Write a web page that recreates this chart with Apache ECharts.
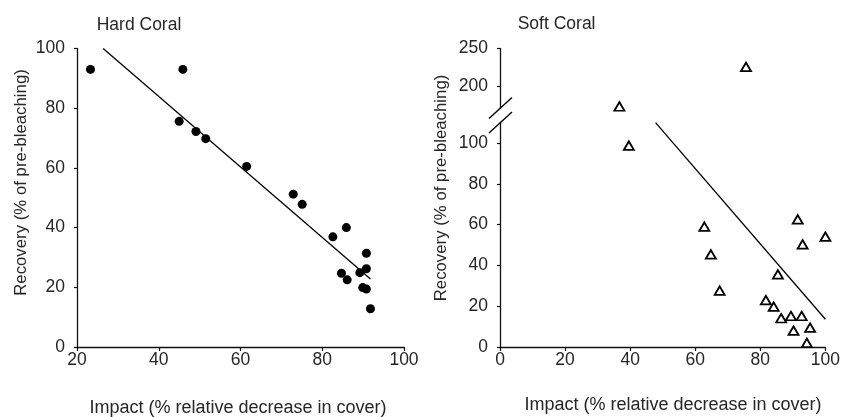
<!DOCTYPE html>
<html>
<head>
<meta charset="utf-8">
<script src="https://cdn.jsdelivr.net/npm/echarts@6/dist/echarts.min.js"></script>
<style>html,body{margin:0;padding:0;background:#fff}#c{width:843px;height:417px}</style>
</head>
<body>
<div id="c"></div>
<script>
// ---- Data ----
const hardImpact   = [23.3, 45.9, 45.0, 49.1, 51.5, 61.5, 72.9, 75.1, 82.6, 85.9, 84.7, 86.1, 89.2, 90.8, 90.8, 89.9, 90.8, 91.8];
const hardRecovery = [93.0, 93.0, 75.6, 72.2, 69.8, 60.5, 51.2, 47.8, 36.9, 40.0, 24.7, 22.5, 24.9, 31.4, 26.2, 19.9, 19.4, 12.8];
const hardFitX = [26.4, 91.8];
const hardFitY = [100.0, 22.8];

const softImpact   = [39.6, 62.8, 64.8, 67.5, 85.4, 91.5, 93.0, 100, 81.7, 84.1, 86.4, 89.4, 92.7, 90.2, 95.3, 94.3];
const softRecovery = [98.7, 59.0, 45.4, 27.6, 35.6, 62.6, 50.3, 54.1, 23.0, 19.8, 14.1, 15.2, 15.2, 8.0, 9.5, 2.0];
const softImpactHigh   = [36.4, 75.0];
const softRecoveryHigh = [174, 226];
const softFitX = [47.8, 100];
const softFitY = [110, 13.6];

const hardXTicks = [20, 40, 60, 80, 100];
const hardYTicks = [0, 20, 40, 60, 80, 100];
const softXTicks = [0, 20, 40, 60, 80, 100];
const softYTicksLow = [0, 20, 40, 60, 80, 100];
const softYTicksHigh = [200, 250];

const titles = ['Hard Coral', 'Soft Coral'];
const xName = 'Impact (% relative decrease in cover)';
const yName = 'Recovery (% of pre-bleaching)';

// ---- Chart ----
const FONT = 'Liberation Sans, Arial, sans-serif';
const TXT = '#262626';
const AX = '#111';

const pairs = (xs, ys) => xs.map((x, i) => [x, ys[i]]);

function xAxisCfg(gi, min, max, ticks, show) {
  return {
    type: 'value', gridIndex: gi, min: min, max: max, show: show,
    axisLine: { show: true, onZero: false, lineStyle: { color: AX, width: 1.3 } },
    axisTick: { show: true, length: 4, customValues: ticks, lineStyle: { color: AX, width: 1.2 } },
    axisLabel: { customValues: ticks, margin: 4, color: TXT, fontSize: 17.5, fontFamily: FONT },
    splitLine: { show: false }
  };
}
function yAxisCfg(gi, min, max, ticks) {
  return {
    type: 'value', gridIndex: gi, min: min, max: max,
    axisLine: { show: true, onZero: false, lineStyle: { color: AX, width: 1.3 } },
    axisTick: { show: true, length: 3, customValues: ticks, lineStyle: { color: AX, width: 1.2 } },
    axisLabel: { customValues: ticks, margin: 12, color: TXT, fontSize: 17.5, fontFamily: FONT },
    splitLine: { show: false }
  };
}

const chart = echarts.init(document.getElementById('c'), null, { renderer: 'canvas' });

const triStyle = { color: '#fff', borderColor: '#000', borderWidth: 1.8, opacity: 1 };

const option = {
  animation: false,
  backgroundColor: '#fff',
  grid: [
    { left: 77, top: 48.5, width: 327, height: 298.5 },
    { left: 500, top: 48.5, width: 328, height: 59.5 },
    { left: 500, top: 122.6, width: 328, height: 224.4 }
  ],
  xAxis: [
    xAxisCfg(0, 20, 100, hardXTicks, true),
    xAxisCfg(1, 0, 100, softXTicks, false),
    xAxisCfg(2, 0, 100, softXTicks, true)
  ],
  yAxis: [
    yAxisCfg(0, 0, 100, hardYTicks),
    yAxisCfg(1, 172, 250, softYTicksHigh),
    yAxisCfg(2, 0, 110, softYTicksLow)
  ],
  series: [
    { type: 'scatter', xAxisIndex: 0, yAxisIndex: 0, data: pairs(hardImpact, hardRecovery),
      symbol: 'circle', symbolSize: 9, itemStyle: { color: '#000', opacity: 1 } },
    { type: 'line', xAxisIndex: 0, yAxisIndex: 0, data: pairs(hardFitX, hardFitY),
      symbol: 'none', lineStyle: { color: '#000', width: 1.3 } },
    { type: 'scatter', xAxisIndex: 1, yAxisIndex: 1, data: pairs(softImpactHigh, softRecoveryHigh),
      symbol: 'triangle', symbolSize: [10, 8.5], itemStyle: triStyle },
    { type: 'scatter', xAxisIndex: 2, yAxisIndex: 2, data: pairs(softImpact, softRecovery), clip: false,
      symbol: 'triangle', symbolSize: [10, 8.5], itemStyle: triStyle },
    { type: 'line', xAxisIndex: 2, yAxisIndex: 2, data: pairs(softFitX, softFitY),
      symbol: 'none', lineStyle: { color: '#000', width: 1.3 } }
  ]
};
chart.setOption(option);

// axis break marks and text placed relative to the grids
const upBottom = chart.convertToPixel({ xAxisIndex: 1, yAxisIndex: 1 }, [0, 172]);
const lowTop = chart.convertToPixel({ xAxisIndex: 2, yAxisIndex: 2 }, [0, 110]);
function slash(cx, cy) {
  return { type: 'line', shape: { x1: cx - 11.5, y1: cy + 10.5, x2: cx + 11.5, y2: cy - 10.5 },
           style: { stroke: '#000', lineWidth: 1.4 }, z: 100 };
}
function txt(text, x, y, size, opts) {
  return Object.assign({ type: 'text', x: x, y: y, z: 100,
    style: { text: text, fontSize: size, fontFamily: FONT, fill: TXT, align: 'center', verticalAlign: 'middle' } }, opts || {});
}
const g = [
  slash(upBottom[0] + 0.5, upBottom[1]),
  slash(lowTop[0] + 0.5, lowTop[1]),
  txt(titles[0], 96.7, 25, 17.5, { style: { text: titles[0], fontSize: 17.5, fontFamily: FONT, fill: TXT, align: 'left', verticalAlign: 'middle' } }),
  txt(titles[1], 517.7, 24, 17.5, { style: { text: titles[1], fontSize: 17.5, fontFamily: FONT, fill: TXT, align: 'left', verticalAlign: 'middle' } }),
  txt(xName, 238, 408.5, 18),
  txt(xName, 673, 405.5, 18),
  txt(yName, 21.5, 182.5, 16.8, { rotation: Math.PI / 2 }),
  txt(yName, 441.5, 188, 16.8, { rotation: Math.PI / 2 })
];
chart.setOption({ graphic: g });
</script>
</body>
</html>
